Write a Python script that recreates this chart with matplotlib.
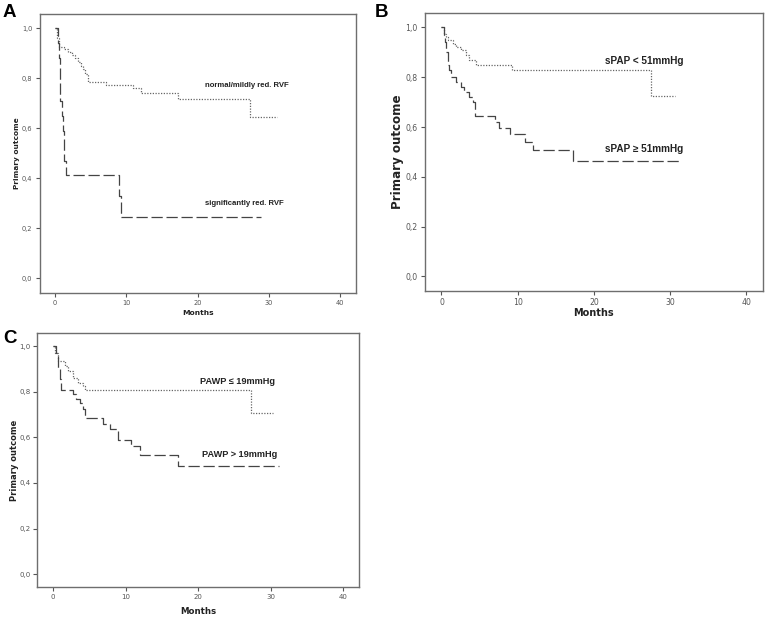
import matplotlib
matplotlib.use("Agg")
import matplotlib.pyplot as plt

# ---------------- data ----------------
# Panel A
a_good_t = [0, 0.3, 0.5, 1.2, 1.8, 2.4, 2.8, 3.2, 3.6, 3.9, 4.2, 4.6, 7.1, 10.9, 12.0, 17.2, 27.4]
a_good_s = [1.0, 0.96, 0.925, 0.915, 0.905, 0.893, 0.88, 0.865, 0.85, 0.835, 0.815, 0.786, 0.774, 0.76, 0.74, 0.716, 0.644]
a_good_end = 31.2
a_bad_t = [0, 0.35, 0.5, 0.7, 0.95, 1.1, 1.3, 1.5, 9.0, 9.2]
a_bad_s = [1.0, 0.94, 0.88, 0.71, 0.65, 0.59, 0.47, 0.412, 0.33, 0.247]
a_bad_end = 28.9

# Panel B
b_low_t = [0, 0.3, 0.6, 0.85, 1.5, 1.9, 2.6, 3.2, 3.6, 4.5, 9.2, 27.5]
b_low_s = [1.0, 0.975, 0.96, 0.948, 0.935, 0.922, 0.908, 0.89, 0.868, 0.849, 0.829, 0.724]
b_low_end = 30.7
b_high_t = [0, 0.3, 0.5, 0.65, 0.8, 1.0, 1.3, 1.9, 2.6, 3.0, 3.6, 4.1, 4.4, 7.0, 7.6, 9.0, 10.9, 12.0, 17.3]
b_high_s = [1.0, 0.97, 0.94, 0.90, 0.85, 0.83, 0.80, 0.78, 0.76, 0.74, 0.72, 0.70, 0.645, 0.622, 0.598, 0.572, 0.541, 0.508, 0.462]
b_high_end = 31.5

# Panel C
c_low_t = [0, 0.3, 0.7, 1.6, 2.1, 2.8, 3.4, 4.1, 4.4, 27.3]
c_low_s = [1.0, 0.97, 0.935, 0.913, 0.89, 0.862, 0.84, 0.825, 0.81, 0.709]
c_low_end = 30.3
c_high_t = [0, 0.4, 0.6, 0.9, 1.1, 2.7, 3.2, 3.7, 4.1, 4.4, 6.9, 7.8, 9.0, 10.8, 12.0, 17.2]
c_high_s = [1.0, 0.97, 0.90, 0.855, 0.81, 0.789, 0.767, 0.75, 0.724, 0.683, 0.66, 0.636, 0.59, 0.56, 0.522, 0.476]
c_high_end = 31.2

x_ticks = [0, 10, 20, 30, 40]
y_ticks = [0.0, 0.2, 0.4, 0.6, 0.8, 1.0]
y_tick_labels = ["0,0", "0,2", "0,4", "0,6", "0,8", "1,0"]

a_labels = ["normal/mildly red. RVF", "significantly red. RVF"]
b_labels = ["sPAP < 51mmHg", "sPAP \u2265 51mmHg"]
c_labels = ["PAWP \u2264 19mmHg", "PAWP > 19mmHg"]

# ---------------- figure ----------------
fig = plt.figure(figsize=(7.75, 6.22), dpi=100)
fig.patch.set_facecolor("white")

SPINE = "#6e6e6e"

def step(ax, t, s, end, style):
    tt = list(t) + [end]
    ss = list(s) + [s[-1]]
    if style == "dotted":
        ax.step(tt, ss, where="post", color="#666666", lw=0.9,
                linestyle=(0, (1, 1.2)))
    else:
        ax.step(tt, ss, where="post", color="#444444", lw=0.9,
                linestyle=(0, (9, 3)))

def setup(ax, tick_fs, lab_fs, ylab_fs, xlab_y, ylab_x):
    ax.set_xlim(-2.2, 42.2)
    ax.set_ylim(-0.058, 1.057)
    ax.set_xticks(x_ticks)
    ax.set_xticklabels([str(v) for v in x_ticks])
    ax.set_yticks(y_ticks)
    ax.set_yticklabels(y_tick_labels)
    for sp in ax.spines.values():
        sp.set_color(SPINE)
        sp.set_linewidth(1.0)
    ax.tick_params(axis="both", direction="out", length=3, width=0.8,
                   color="#555555", labelsize=tick_fs, labelcolor="#555555", pad=2)
    ax.set_xlabel("Months", fontsize=lab_fs, fontweight="bold",
                  family="DejaVu Sans", color="#222222", va="center")
    ax.set_ylabel("Primary outcome", fontsize=ylab_fs, fontweight="bold",
                  family="DejaVu Sans", color="#222222", va="center")
    ax.xaxis.set_label_coords(0.5, xlab_y)
    ax.yaxis.set_label_coords(ylab_x, 0.5)

# Panel A
axA = fig.add_axes([0.051, 0.529, 0.408, 0.4486])
step(axA, a_good_t, a_good_s, a_good_end, "dotted")
step(axA, a_bad_t, a_bad_s, a_bad_end, "dashed")
setup(axA, 4.8, 5.4, 5.3, -0.072, -0.071)
axA.text(21.1, 0.773, a_labels[0], fontsize=5.6, fontweight="bold",
         family="Liberation Sans", va="center", ha="left", color="#222222")
axA.text(21.1, 0.30, a_labels[1], fontsize=5.6, fontweight="bold",
         family="Liberation Sans", va="center", ha="left", color="#222222")

# Panel B
axB = fig.add_axes([0.548, 0.5326, 0.4365, 0.446])
step(axB, b_low_t, b_low_s, b_low_end, "dotted")
step(axB, b_high_t, b_high_s, b_high_end, "dashed")
setup(axB, 5.6, 7.0, 8.6, -0.08, -0.08)
axB.text(21.4, 0.865, b_labels[0], fontsize=7.2, fontweight="bold",
         family=["Liberation Sans", "DejaVu Sans"], va="center", ha="left", color="#222222")
axB.text(21.4, 0.512, b_labels[1], fontsize=7.2, fontweight="bold",
         family=["Liberation Sans", "DejaVu Sans"], va="center", ha="left", color="#222222")

# Panel C
axC = fig.add_axes([0.048, 0.0558, 0.4155, 0.4084])
step(axC, c_low_t, c_low_s, c_low_end, "dotted")
step(axC, c_high_t, c_high_s, c_high_end, "dashed")
setup(axC, 5.0, 6.2, 6.0, -0.095, -0.072)
axC.text(20.2, 0.847, c_labels[0], fontsize=6.6, fontweight="bold",
         family=["Liberation Sans", "DejaVu Sans"], va="center", ha="left", color="#222222")
axC.text(20.5, 0.527, c_labels[1], fontsize=6.6, fontweight="bold",
         family=["Liberation Sans", "DejaVu Sans"], va="center", ha="left", color="#222222")

# Panel letters
for x, y, s in [(3 / 775, 1 - 17 / 622, "A"), (375 / 775, 1 - 17 / 622, "B"),
                (3 / 775, 1 - 343 / 622, "C")]:
    fig.text(x, y, s, fontsize=13.5, fontweight="bold", family="Liberation Sans",
             ha="left", va="baseline", color="black")

fig.savefig("out.png", dpi=100, facecolor="white")
